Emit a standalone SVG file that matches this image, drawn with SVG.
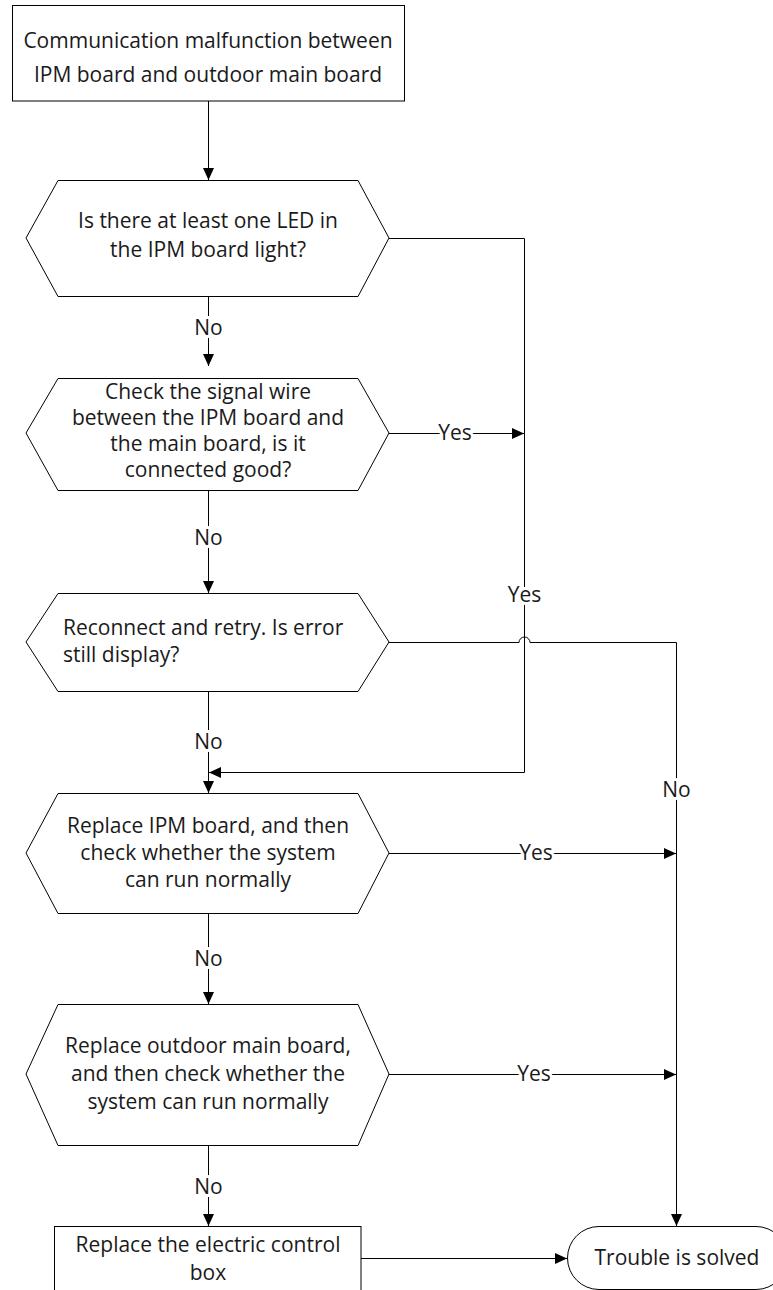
<svg xmlns="http://www.w3.org/2000/svg" width="773" height="1290" viewBox="0 0 773 1290">
<defs>
<marker id="arr" markerWidth="12" markerHeight="11" refX="12" refY="5.5" orient="auto" markerUnits="userSpaceOnUse"><path d="M0,0 L12,5.5 L0,11 Z" fill="#000"/></marker>
</defs>
<style>
.shape{fill:#fff;stroke:#000;stroke-width:1}
.t{font-family:"Open Sans","Liberation Sans",sans-serif;font-size:21px;fill:#1a1a1a}
.c{text-anchor:middle}
.ln{fill:none;stroke:#000;stroke-width:1}
.a{marker-end:url(#arr)}
.lbl{font-family:"Open Sans","Liberation Sans",sans-serif;font-size:21px;text-anchor:middle;fill:#1a1a1a;stroke:#fff;stroke-width:6;paint-order:stroke;stroke-linejoin:round}
</style>
<rect width="773" height="1290" fill="#fff"/>
<g id="connectors">
<path class="ln a" d="M208.5,101 V180"/>
<path class="ln a" d="M208.5,296 V366"/>
<path class="ln a" d="M389,238.5 H524.5 V772.5 H209"/>
<path class="ln a" d="M389,433.5 H524"/>
<path class="ln a" d="M208.5,490 V593"/>
<path class="ln a" d="M389,642.5 H519 A5.5,5.5 0 0 1 530,642.5 H676.5 V1226"/>
<path class="ln a" d="M208.5,691 V793"/>
<path class="ln a" d="M389,853.5 H676"/>
<path class="ln a" d="M208.5,913 V1004"/>
<path class="ln a" d="M389,1074.5 H676"/>
<path class="ln a" d="M208.5,1145 V1226"/>
<path class="ln a" d="M361,1258.5 H567"/>
<text class="lbl" x="208.5" y="335">No</text>
<text class="lbl" x="208.5" y="545">No</text>
<text class="lbl" x="208.5" y="749">No</text>
<text class="lbl" x="208.5" y="966">No</text>
<text class="lbl" x="208.5" y="1194">No</text>
<text class="lbl" x="455" y="440">Yes</text>
<text class="lbl" x="524.5" y="602">Yes</text>
<text class="lbl" x="676.5" y="797">No</text>
<text class="lbl" x="536" y="860">Yes</text>
<text class="lbl" x="534" y="1081">Yes</text>
</g>
<g id="start">
<rect class="shape" x="12.5" y="5.5" width="392" height="95.5"/>
<text class="t c" x="208" y="48">Communication malfunction between</text>
<text class="t c" x="208" y="82">IPM board and outdoor main board</text>
</g>
<g id="q-led">
<polygon class="shape" points="26,238 58,180.5 358,180.5 389,238 358,296.5 58,296.5"/>
<text class="t c" x="208" y="228">Is there at least one LED in</text>
<text class="t c" x="208" y="257">the IPM board light?</text>
</g>
<g id="q-wire">
<polygon class="shape" points="26,433 58,378.5 358,378.5 389,433 358,490.5 58,490.5"/>
<text class="t c" x="208" y="399">Check the signal wire</text>
<text class="t c" x="208" y="425">between the IPM board and</text>
<text class="t c" x="208" y="451">the main board, is it</text>
<text class="t c" x="208" y="477">connected good?</text>
</g>
<g id="q-retry">
<polygon class="shape" points="26,642 58,593.5 358,593.5 389,642 358,691.5 58,691.5"/>
<text class="t" x="63" y="635">Reconnect and retry. Is error</text>
<text class="t" x="63" y="662">still display?</text>
</g>
<g id="q-ipm">
<polygon class="shape" points="26,853 58,793.5 358,793.5 389,853 358,913.5 58,913.5"/>
<text class="t c" x="208" y="833">Replace IPM board, and then</text>
<text class="t c" x="208" y="860">check whether the system</text>
<text class="t c" x="208" y="887">can run normally</text>
</g>
<g id="q-main">
<polygon class="shape" points="26,1074 58,1004.5 358,1004.5 389,1074 358,1145.5 58,1145.5"/>
<text class="t c" x="208" y="1053">Replace outdoor main board,</text>
<text class="t c" x="208" y="1081">and then check whether the</text>
<text class="t c" x="208" y="1109">system can run normally</text>
</g>
<g id="replace-box">
<rect class="shape" x="54.5" y="1226.5" width="306.5" height="80"/>
<text class="t c" x="208" y="1252">Replace the electric control</text>
<text class="t c" x="208" y="1280">box</text>
</g>
<g id="solved">
<rect class="shape" x="567.5" y="1226.5" width="220" height="63" rx="31.5"/>
<text class="t c" x="677" y="1265">Trouble is solved</text>
</g>
</svg>
